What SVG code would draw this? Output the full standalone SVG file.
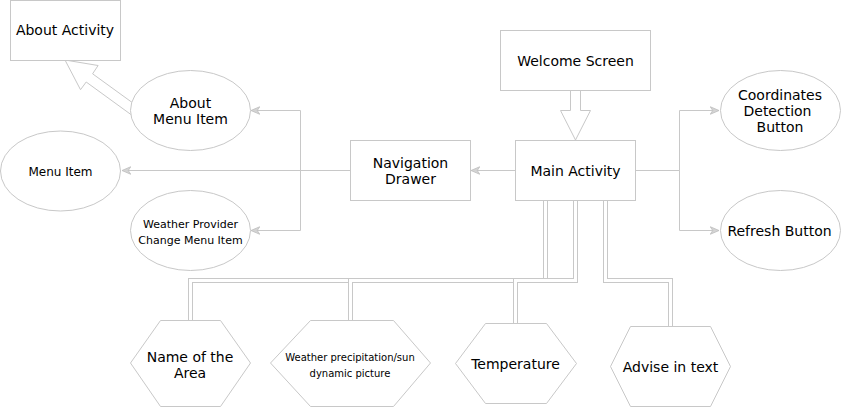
<svg xmlns="http://www.w3.org/2000/svg" width="841" height="408" viewBox="0 0 841 408">
<style>
.n{fill:#ffffff;stroke:#c8c8c8;stroke-width:1}
.t{font-family:"DejaVu Sans","Verdana",sans-serif;fill:#000000;text-anchor:middle}
.f14{font-size:14px}
.f12{font-size:12px}
.f11{font-size:11px}
.f10{font-size:10px}
.c{fill:none;stroke:#c8c8c8;stroke-width:1}
.lo{fill:none;stroke:#c8c8c8;stroke-width:5;stroke-linejoin:miter}
.li{fill:none;stroke:#ffffff;stroke-width:3;stroke-linejoin:miter}
.blk{fill:#ffffff;stroke:#c8c8c8;stroke-width:1;stroke-linejoin:miter}
</style>
<defs>
<marker id="ah" markerUnits="userSpaceOnUse" markerWidth="10" markerHeight="10" viewBox="0 -4 8 8" refX="7" refY="0" orient="auto">
<path d="M0,-3 L7,0 L0,3 L2,0 z" fill="#d4d4d4" stroke="#c0c0c0" stroke-width="0.7"/>
</marker>
</defs>
<rect width="841" height="408" fill="#ffffff"/>
<g id="connectors">
<polygon class="blk" points="65,60 80.5,89.7 86.2,82 130.9,114.5 137,106 92.6,73.8 98.1,65.5"/>
<polygon class="blk" points="570.5,90.5 580.5,90.5 580.5,110.5 590.5,110.5 575.5,140 560.5,110.5 570.5,110.5"/>
<path class="c" d="M515,170.5 H471" marker-end="url(#ah)"/>
<path class="c" d="M350,170.5 H122" marker-end="url(#ah)"/>
<path class="c" d="M350,170.5 H300.5 V110.5 H251" marker-end="url(#ah)"/>
<path class="c" d="M350,170.5 H300.5 V230.5 H251" marker-end="url(#ah)"/>
<path class="c" d="M635,170.5 H679.5 V110.5 H719" marker-end="url(#ah)"/>
<path class="c" d="M635,170.5 H679.5 V230.5 H719" marker-end="url(#ah)"/>
<path class="lo" d="M545.5,200 V280.5 H190.5 V321"/>
<path class="li" d="M545.5,200 V280.5 H190.5 V321"/>
<path class="lo" d="M545.5,200 V280.5 H350.5 V321"/>
<path class="li" d="M545.5,200 V280.5 H350.5 V321"/>
<path class="lo" d="M575.5,200 V280.5 H515.5 V324"/>
<path class="li" d="M575.5,200 V280.5 H515.5 V324"/>
<path class="lo" d="M605.5,200 V280.5 H670.5 V327"/>
<path class="li" d="M605.5,200 V280.5 H670.5 V327"/>
</g>
<g id="about-activity">
<rect class="n" x="10.5" y="0.5" width="110" height="60"/>
<text class="t f14" x="65" y="35">About Activity</text>
</g>
<g id="about-menu-item">
<ellipse class="n" cx="190.5" cy="110.5" rx="60" ry="40"/>
<text class="t f14" x="190.5" y="107.5">About</text>
<text class="t f14" x="190.5" y="123.5">Menu Item</text>
</g>
<g id="menu-item">
<ellipse class="n" cx="60.5" cy="171" rx="60" ry="40"/>
<text class="t f12" x="60.5" y="175.5">Menu Item</text>
</g>
<g id="weather-provider-menu-item">
<ellipse class="n" cx="190.5" cy="230.5" rx="60" ry="40"/>
<text class="t f11" x="190.5" y="227.5">Weather Provider</text>
<text class="t f11" x="190.5" y="243.5">Change Menu Item</text>
</g>
<g id="navigation-drawer">
<rect class="n" x="350.5" y="140.5" width="120" height="60"/>
<text class="t f14" x="410.5" y="168">Navigation</text>
<text class="t f14" x="410.5" y="184">Drawer</text>
</g>
<g id="welcome-screen">
<rect class="n" x="500.5" y="30.5" width="150" height="60"/>
<text class="t f14" x="575.5" y="66">Welcome Screen</text>
</g>
<g id="main-activity">
<rect class="n" x="515.5" y="140.5" width="120" height="60"/>
<text class="t f14" x="575.5" y="176">Main Activity</text>
</g>
<g id="coordinates-detection-button">
<ellipse class="n" cx="780.5" cy="110.5" rx="60" ry="40"/>
<text class="t f14" x="780" y="100">Coordinates</text>
<text class="t f14" x="777.5" y="116">Detection</text>
<text class="t f14" x="780" y="132">Button</text>
</g>
<g id="refresh-button">
<ellipse class="n" cx="780.5" cy="230.5" rx="60" ry="40"/>
<text class="t f14" x="779.5" y="235.5">Refresh Button</text>
</g>
<g id="name-of-the-area">
<polygon class="n" points="130.5,363 160.5,320.5 220.5,320.5 250.5,363 220.5,406.5 160.5,406.5"/>
<text class="t f14" x="190" y="361.5">Name of the</text>
<text class="t f14" x="190" y="377.5">Area</text>
</g>
<g id="weather-picture">
<polygon class="n" points="270.5,363 310.5,320.5 393.5,320.5 430.5,363 393.5,406.5 310.5,406.5"/>
<text class="t f10" x="350" y="361">Weather precipitation/sun</text>
<text class="t f10" x="350" y="377">dynamic picture</text>
</g>
<g id="temperature">
<polygon class="n" points="455.5,363.5 485.5,323.5 546.5,323.5 576.5,363.5 546.5,403.5 485.5,403.5"/>
<text class="t f14" x="515.5" y="369">Temperature</text>
</g>
<g id="advise-in-text">
<polygon class="n" points="610.5,366.5 630.5,326.5 710.5,326.5 730.5,366.5 710.5,406.5 630.5,406.5"/>
<text class="t f14" x="670.5" y="372">Advise in text</text>
</g>
</svg>
